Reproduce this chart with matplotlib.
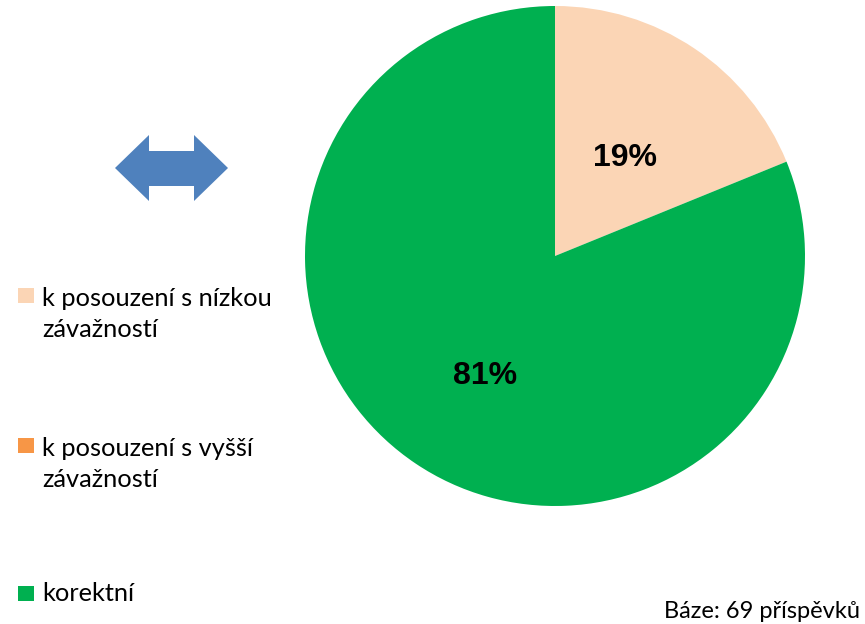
import matplotlib
matplotlib.use("Agg")
import matplotlib.pyplot as plt
import matplotlib.patches as mpatches

# === DATA ===
categories = ["k posouzení s nízkou\nzávažností",
              "k posouzení s vyšší\nzávažností",
              "korektní"]
counts = [13, 0, 56]
colors = ["#FBD5B5", "#F79646", "#00B050"]
base_note = "Báze: 69 příspěvků"

W, H = 865, 624
fig = plt.figure(figsize=(W / 100, H / 100), dpi=100)

# === Pie ===
ax = fig.add_axes([305 / W, (H - 506) / H, 500 / W, 500 / H])
wedges, texts, autotexts = ax.pie(
    counts, colors=colors, startangle=90, counterclock=False,
    autopct=lambda p: f"{p:.0f}%" if p > 0.5 else "",
    pctdistance=0.5, radius=1,
    textprops=dict(family="Liberation Sans", fontsize=23, fontweight="bold", color="black"),
    wedgeprops=dict(linewidth=0))
# nudge labels to where they sit in the reference
x, y = autotexts[0].get_position()
autotexts[0].set_position((x, y * 0.94))
x, y = autotexts[2].get_position()
autotexts[2].set_position((x, y * 1.16))
ax.set_xlim(-1, 1)
ax.set_ylim(-1, 1)
ax.set_aspect("equal")
ax.axis("off")

# === Legend (manual, left side) ===
baselines = [303, 453, 601]
line_gap = 34
for label, col, yb in zip(categories, colors, baselines):
    fig.patches.append(mpatches.Rectangle((18 / W, (H - yb) / H), 16 / W, 15 / H,
                                          transform=fig.transFigure, color=col, lw=0))
    # multiline text: baseline alignment is on the last line
    last = yb + line_gap * label.count("\n")
    fig.text(42 / W, (H - last) / H, label, family="Lato", fontsize=18.3,
             va="baseline", ha="left", linespacing=1.4)

# === Double arrow ===
arrow_pts = [(115, 168), (149, 135), (149, 151), (194, 151), (194, 135), (228, 168),
             (194, 201), (194, 186), (149, 186), (149, 201)]
fig.patches.append(mpatches.Polygon([(px / W, (H - py) / H) for px, py in arrow_pts],
                                    closed=True, transform=fig.transFigure,
                                    facecolor="#4F81BD", edgecolor="none"))

fig.text(860 / W, (H - 618) / H, base_note, family="Lato", fontsize=17,
         ha="right", va="baseline")

fig.savefig("out.png", dpi=100, facecolor="white")
